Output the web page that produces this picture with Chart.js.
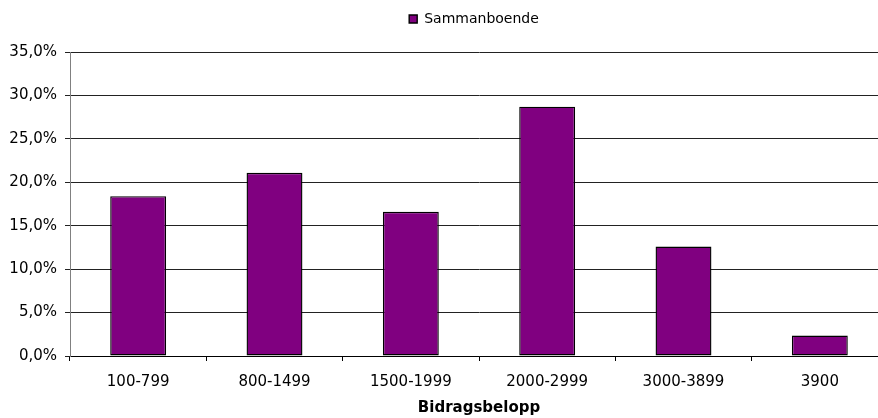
<!DOCTYPE html>
<html>
<head>
<meta charset="utf-8">
<script src="https://cdn.jsdelivr.net/npm/chart.js@4/dist/chart.umd.min.js"></script>
<style>
  html, body { margin: 0; padding: 0; background: #fff; overflow: hidden; }
  #wrap { width: 878px; height: 418px; overflow: hidden; }
</style>
</head>
<body>
<div id="wrap"><canvas id="myChart" width="888" height="418"></canvas></div>
<script>
var categories = ['100-799', '800-1499', '1500-1999', '2000-2999', '3000-3899', '3900'];
var sammanboende = [18.4, 21.1, 16.6, 28.7, 12.6, 2.35];
var yTicks = [0, 5, 10, 15, 20, 25, 30, 35];
var seriesName = 'Sammanboende';
var xTitle = 'Bidragsbelopp';

// legend gets a fixed height so the plot starts where it does in the picture
const legendHeight = {
  id: 'legendHeight',
  beforeInit(chart) {
    const fit = chart.legend.fit;
    chart.legend.fit = function() {
      fit.bind(chart.legend)();
      this.height = 52;
    };
  },
  afterLayout(chart) {
    chart.legend.left -= 5;
    chart.legend.right -= 5;
  }
};

const ctx = document.getElementById('myChart');

new Chart(ctx, {
  type: 'bar',
  data: {
    labels: categories,
    datasets: [{
      label: seriesName,
      data: sammanboende,
      backgroundColor: '#800080',
      borderColor: '#000',
      borderWidth: 1.4,
      borderSkipped: false,
      barPercentage: 1,
      categoryPercentage: 0.41
    }]
  },
  options: {
    responsive: false,
    animation: false,
    layout: { padding: { left: 0, right: 0, top: 0, bottom: 0 } },
    plugins: {
      legend: {
        display: true,
        position: 'top',
        fullSize: false,
        labels: {
          boxWidth: 8,
          boxHeight: 8,
          padding: 12,
          color: '#000',
          font: { family: 'DejaVu Sans', size: 14 }
        }
      },
      tooltip: { enabled: false }
    },
    scales: {
      x: {
        offset: true,
        grid: {
          offset: true,
          drawOnChartArea: false,
          tickLength: 5,
          color: '#000'
        },
        border: { color: '#000', width: 1 },
        ticks: {
          color: '#000',
          padding: 12,
          maxRotation: 0,
          font: { family: 'DejaVu Sans', size: 15 }
        },
        title: {
          display: true,
          text: xTitle,
          color: '#000',
          padding: { top: 0, bottom: 1 },
          font: { family: 'DejaVu Sans', size: 15, weight: 'bold' }
        },
        afterFit(scale) { scale.height = 62; }
      },
      y: {
        min: 0,
        max: 35,
        afterBuildTicks(scale) {
          scale.ticks = yTicks.map(function(v) { return { value: v }; });
        },
        grid: {
          color: '#222',
          tickColor: '#222',
          tickLength: 5,
          lineWidth: 1
        },
        border: { color: '#808080', width: 1 },
        ticks: {
          color: '#000',
          padding: 8,
          font: { family: 'DejaVu Sans', size: 15 },
          callback: function(v) { return v.toFixed(1).replace('.', ',') + '%'; }
        },
        afterFit(scale) { scale.width = 70; }
      }
    }
  },
  plugins: [legendHeight]
});
</script>
</body>
</html>
